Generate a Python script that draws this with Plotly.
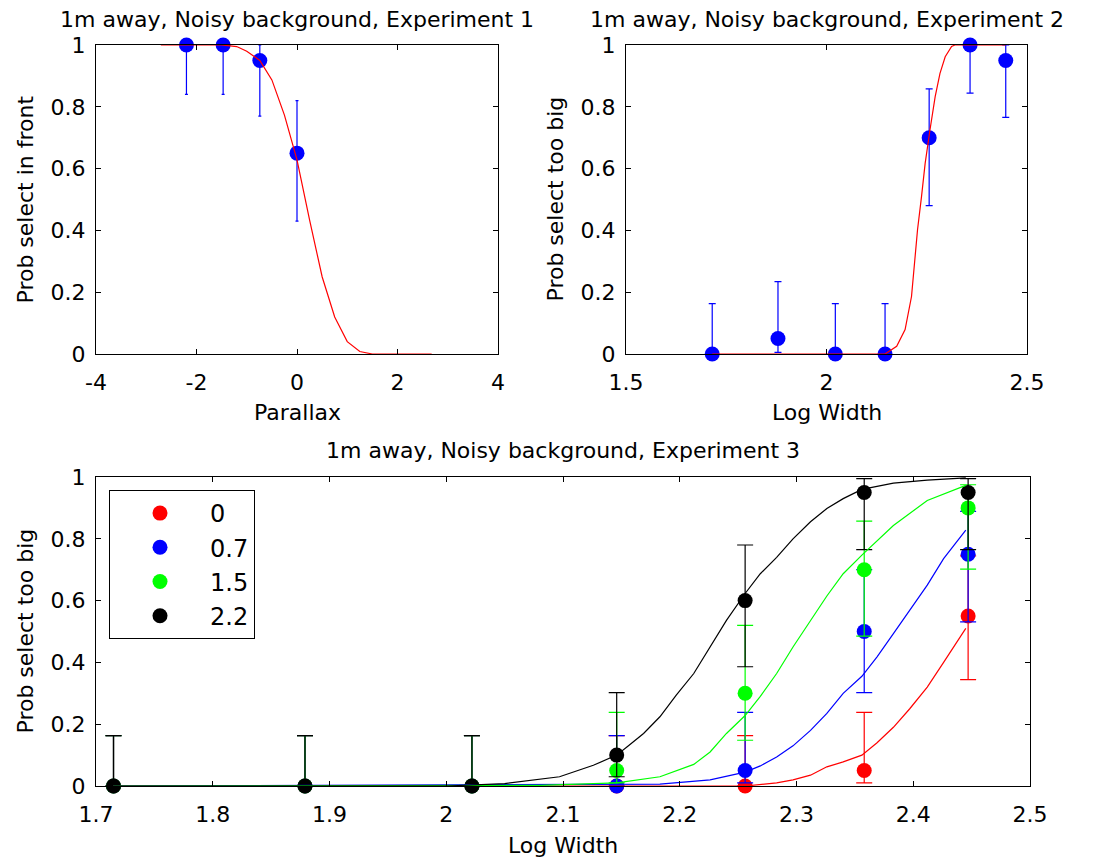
import plotly.graph_objects as go

# ---------------- data ----------------
# Experiment 1 (Parallax)
e1_x = [-2.2, -1.47, -0.74, 0.0]
e1_y = [1.0, 1.0, 0.95, 0.65]
e1_hi = [1.0, 1.0, 1.0, 0.82]
e1_lo = [0.84, 0.84, 0.77, 0.43]
e1_fit_x = [-2.71, -1.5, -1.2, -1.0, -0.74, -0.5, -0.25, 0.0, 0.25, 0.5, 0.75, 1.0, 1.25, 1.5, 2.68]
e1_fit_y = [1.0, 1.0, 0.995, 0.98, 0.95, 0.887, 0.773, 0.628, 0.434, 0.25, 0.12, 0.04, 0.008, 0.0, 0.0]

# Experiment 2 (Log Width)
lw_x = [1.715, 1.879, 2.022, 2.146, 2.256, 2.358, 2.447]
e2_y = [0.0, 0.05, 0.0, 0.0, 0.70, 1.0, 0.95]
e2_hi = [0.163, 0.234, 0.163, 0.163, 0.858, 1.0, 1.0]
e2_lo = [0.0, 0.005, 0.0, 0.0, 0.48, 0.844, 0.766]
e2_fit_x = [1.715, 2.146, 2.175, 2.196, 2.212, 2.219, 2.227, 2.237, 2.246, 2.258,
            2.271, 2.283, 2.296, 2.312, 2.32, 2.447]
e2_fit_y = [0.0, 0.0, 0.025, 0.079, 0.186, 0.294, 0.402, 0.51, 0.617, 0.725,
            0.833, 0.908, 0.962, 0.995, 1.0, 1.0]

# Experiment 3 (four conditions)
e3_names = ["0", "0.7", "1.5", "2.2"]
e3_colors = ["#FF0000", "#0000FF", "#00FF00", "#000000"]
e3_y = [
    [0, 0, 0, 0, 0, 0.05, 0.55],
    [0, 0, 0, 0, 0.05, 0.50, 0.75],
    [0, 0, 0, 0.05, 0.30, 0.70, 0.90],
    [0, 0, 0, 0.10, 0.60, 0.95, 0.95],
]
e3_hi = [
    [0.163, 0.163, 0.163, 0.163, 0.163, 0.238, 0.745],
    [0.163, 0.163, 0.163, 0.163, 0.238, 0.70, 0.889],
    [0.163, 0.163, 0.163, 0.238, 0.52, 0.857, 0.975],
    [0.163, 0.163, 0.163, 0.302, 0.78, 0.995, 0.995],
]
e3_lo = [
    [0, 0, 0, 0, 0, 0.01, 0.344],
    [0, 0, 0, 0, 0.01, 0.302, 0.531],
    [0, 0, 0, 0.01, 0.148, 0.485, 0.702],
    [0, 0, 0, 0.03, 0.386, 0.765, 0.765],
]
e3_fit_x = [
    [1.715, 2.256, 2.283, 2.297, 2.312, 2.326, 2.340, 2.356, 2.369, 2.383, 2.397, 2.412, 2.426, 2.445],
    [1.715, 2.183, 2.226, 2.256, 2.269, 2.283, 2.297, 2.312, 2.326, 2.340, 2.356, 2.369, 2.383, 2.397, 2.412, 2.426, 2.445],
    [1.715, 2.08, 2.146, 2.183, 2.212, 2.226, 2.240, 2.256, 2.269, 2.283, 2.297, 2.312, 2.326, 2.340, 2.356, 2.383, 2.412, 2.445],
    [1.715, 2.0, 2.05, 2.097, 2.126, 2.146, 2.155, 2.169, 2.183, 2.197, 2.212, 2.226, 2.240, 2.256,
     2.269, 2.283, 2.297, 2.312, 2.326, 2.340, 2.356, 2.383, 2.412, 2.445],
]
e3_fit_y = [
    [0, 0.0, 0.01, 0.02, 0.035, 0.062, 0.078, 0.10, 0.14, 0.19, 0.25, 0.32, 0.40, 0.51],
    [0, 0.006, 0.02, 0.045, 0.065, 0.094, 0.13, 0.18, 0.235, 0.30, 0.355, 0.418, 0.493, 0.569, 0.65, 0.736, 0.828],
    [0, 0.002, 0.01, 0.03, 0.07, 0.11, 0.17, 0.228, 0.29, 0.364, 0.45, 0.536, 0.615, 0.687, 0.747, 0.843, 0.924, 0.973],
    [0, 0.0, 0.008, 0.03, 0.067, 0.10, 0.127, 0.17, 0.224, 0.294, 0.364, 0.45, 0.536, 0.623,
     0.687, 0.74, 0.80, 0.855, 0.898, 0.93, 0.96, 0.98, 0.99, 0.997],
]

y_ticks = [0, 0.2, 0.4, 0.6, 0.8, 1]
y_ticktext = ["0", "0.2", "0.4", "0.6", "0.8", "1"]
x1_ticks = [-4, -2, 0, 2, 4]
x1_ticktext = ["-4", "-2", "0", "2", "4"]
x2_ticks = [1.5, 2, 2.5]
x2_ticktext = ["1.5", "2", "2.5"]
x3_ticks = [1.7, 1.8, 1.9, 2.0, 2.1, 2.2, 2.3, 2.4, 2.5]
x3_ticktext = ["1.7", "1.8", "1.9", "2", "2.1", "2.2", "2.3", "2.4", "2.5"]

titles = ["1m away, Noisy background, Experiment 1",
          "1m away, Noisy background, Experiment 2",
          "1m away, Noisy background, Experiment 3"]
xtitles = ["Parallax", "Log Width", "Log Width"]
ytitles = ["Prob select in front", "Prob select too big", "Prob select too big"]

# ---------------- figure ----------------
W, H = 1095, 863
FONT = "DejaVu Sans, Liberation Sans, Arial, sans-serif"
FS = 22

fig = go.Figure()


def err(y, hi, lo):
    return dict(up=[h - v for h, v in zip(hi, y)], down=[v - l for v, l in zip(y, lo)])


# Experiment 1
d = err(e1_y, e1_hi, e1_lo)
fig.add_trace(go.Scatter(
    x=e1_x, y=e1_y, mode="markers", xaxis="x", yaxis="y", showlegend=False,
    marker=dict(color="#0000FF", size=15),
    error_y=dict(type="data", symmetric=False, array=d["up"], arrayminus=d["down"],
                 color="#0000FF", thickness=1.2, width=1.5),
    cliponaxis=False))
fig.add_trace(go.Scatter(
    x=e1_fit_x, y=e1_fit_y, mode="lines", xaxis="x", yaxis="y", showlegend=False,
    line=dict(color="#FF0000", width=1.2)))

# Experiment 2
d = err(e2_y, e2_hi, e2_lo)
fig.add_trace(go.Scatter(
    x=lw_x, y=e2_y, mode="markers", xaxis="x2", yaxis="y2", showlegend=False,
    marker=dict(color="#0000FF", size=15),
    error_y=dict(type="data", symmetric=False, array=d["up"], arrayminus=d["down"],
                 color="#0000FF", thickness=1.2, width=3.5),
    cliponaxis=False))
fig.add_trace(go.Scatter(
    x=e2_fit_x, y=e2_fit_y, mode="lines", xaxis="x2", yaxis="y2", showlegend=False,
    line=dict(color="#FF0000", width=1.2)))

# Experiment 3
for i in range(4):
    d = err(e3_y[i], e3_hi[i], e3_lo[i])
    fig.add_trace(go.Scatter(
        x=lw_x, y=e3_y[i], mode="markers", xaxis="x3", yaxis="y3",
        name=e3_names[i],
        marker=dict(color=e3_colors[i], size=15),
        error_y=dict(type="data", symmetric=False, array=d["up"], arrayminus=d["down"],
                     color=e3_colors[i], thickness=1.2, width=8),
        cliponaxis=False))
for i in range(4):
    fig.add_trace(go.Scatter(
        x=e3_fit_x[i], y=e3_fit_y[i], mode="lines", xaxis="x3", yaxis="y3",
        showlegend=False, line=dict(color=e3_colors[i], width=1.2)))


def px_x(a, b):
    return [a / W, b / W]


def px_y(top, bottom):
    return [1 - bottom / H, 1 - top / H]


axis_common = dict(showline=True, linecolor="black", linewidth=1.2, mirror="ticks",
                   ticks="inside", ticklen=5, tickcolor="black", tickwidth=1,
                   showgrid=False, zeroline=False, automargin=False,
                   tickfont=dict(family=FONT, size=FS, color="black"))

fig.update_layout(
    template="none",
    width=W, height=H,
    margin=dict(l=0, r=0, t=0, b=0, pad=0, autoexpand=False),
    paper_bgcolor="white", plot_bgcolor="white",
    font=dict(family=FONT, size=FS, color="black"),
    xaxis=dict(domain=px_x(96, 498), range=[-4, 4], tickvals=x1_ticks, ticktext=x1_ticktext,
               anchor="y", ticklabelstandoff=8, **axis_common),
    yaxis=dict(domain=px_y(45, 354), range=[0, 1], tickvals=y_ticks, ticktext=y_ticktext,
               anchor="x", ticklabelstandoff=5, **axis_common),
    xaxis2=dict(domain=px_x(626, 1027), range=[1.5, 2.5], tickvals=x2_ticks, ticktext=x2_ticktext,
                anchor="y2", ticklabelstandoff=8, **axis_common),
    yaxis2=dict(domain=px_y(45, 354), range=[0, 1], tickvals=y_ticks, ticktext=y_ticktext,
                anchor="x2", ticklabelstandoff=5, **axis_common),
    xaxis3=dict(domain=px_x(96, 1030), range=[1.7, 2.5], tickvals=x3_ticks, ticktext=x3_ticktext,
                anchor="y3", ticklabelstandoff=8, **axis_common),
    yaxis3=dict(domain=px_y(477, 786), range=[0, 1], tickvals=y_ticks, ticktext=y_ticktext,
                anchor="x3", ticklabelstandoff=5, **axis_common),
    legend=dict(x=109 / W, y=1 - 490 / H, xanchor="left", yanchor="top",
                bgcolor="white", bordercolor="black", borderwidth=1,
                font=dict(family=FONT, size=24, color="black"),
                itemwidth=90),
    showlegend=True,
)

ann = []
title_pos = [((96 + 498) / 2, 19), ((626 + 1027) / 2, 19), ((96 + 1030) / 2, 450)]
for t, (cx, cy) in zip(titles, title_pos):
    ann.append(dict(text=t, x=cx / W, y=1 - cy / H, xref="paper", yref="paper",
                    xanchor="center", yanchor="middle", showarrow=False,
                    font=dict(family=FONT, size=FS, color="black")))
xt_pos = [((96 + 498) / 2, 412), ((626 + 1027) / 2, 412), ((96 + 1030) / 2, 845)]
for t, (cx, cy) in zip(xtitles, xt_pos):
    ann.append(dict(text=t, x=cx / W, y=1 - cy / H, xref="paper", yref="paper",
                    xanchor="center", yanchor="middle", showarrow=False,
                    font=dict(family=FONT, size=FS, color="black")))
yt_pos = [(25, (45 + 354) / 2), (555, (45 + 354) / 2), (25, (477 + 786) / 2)]
for t, (cx, cy) in zip(ytitles, yt_pos):
    ann.append(dict(text=t, x=cx / W, y=1 - cy / H, xref="paper", yref="paper",
                    xanchor="center", yanchor="middle", showarrow=False, textangle=-90,
                    font=dict(family=FONT, size=FS, color="black")))
fig.update_layout(annotations=ann)

fig.write_html("out.html")
